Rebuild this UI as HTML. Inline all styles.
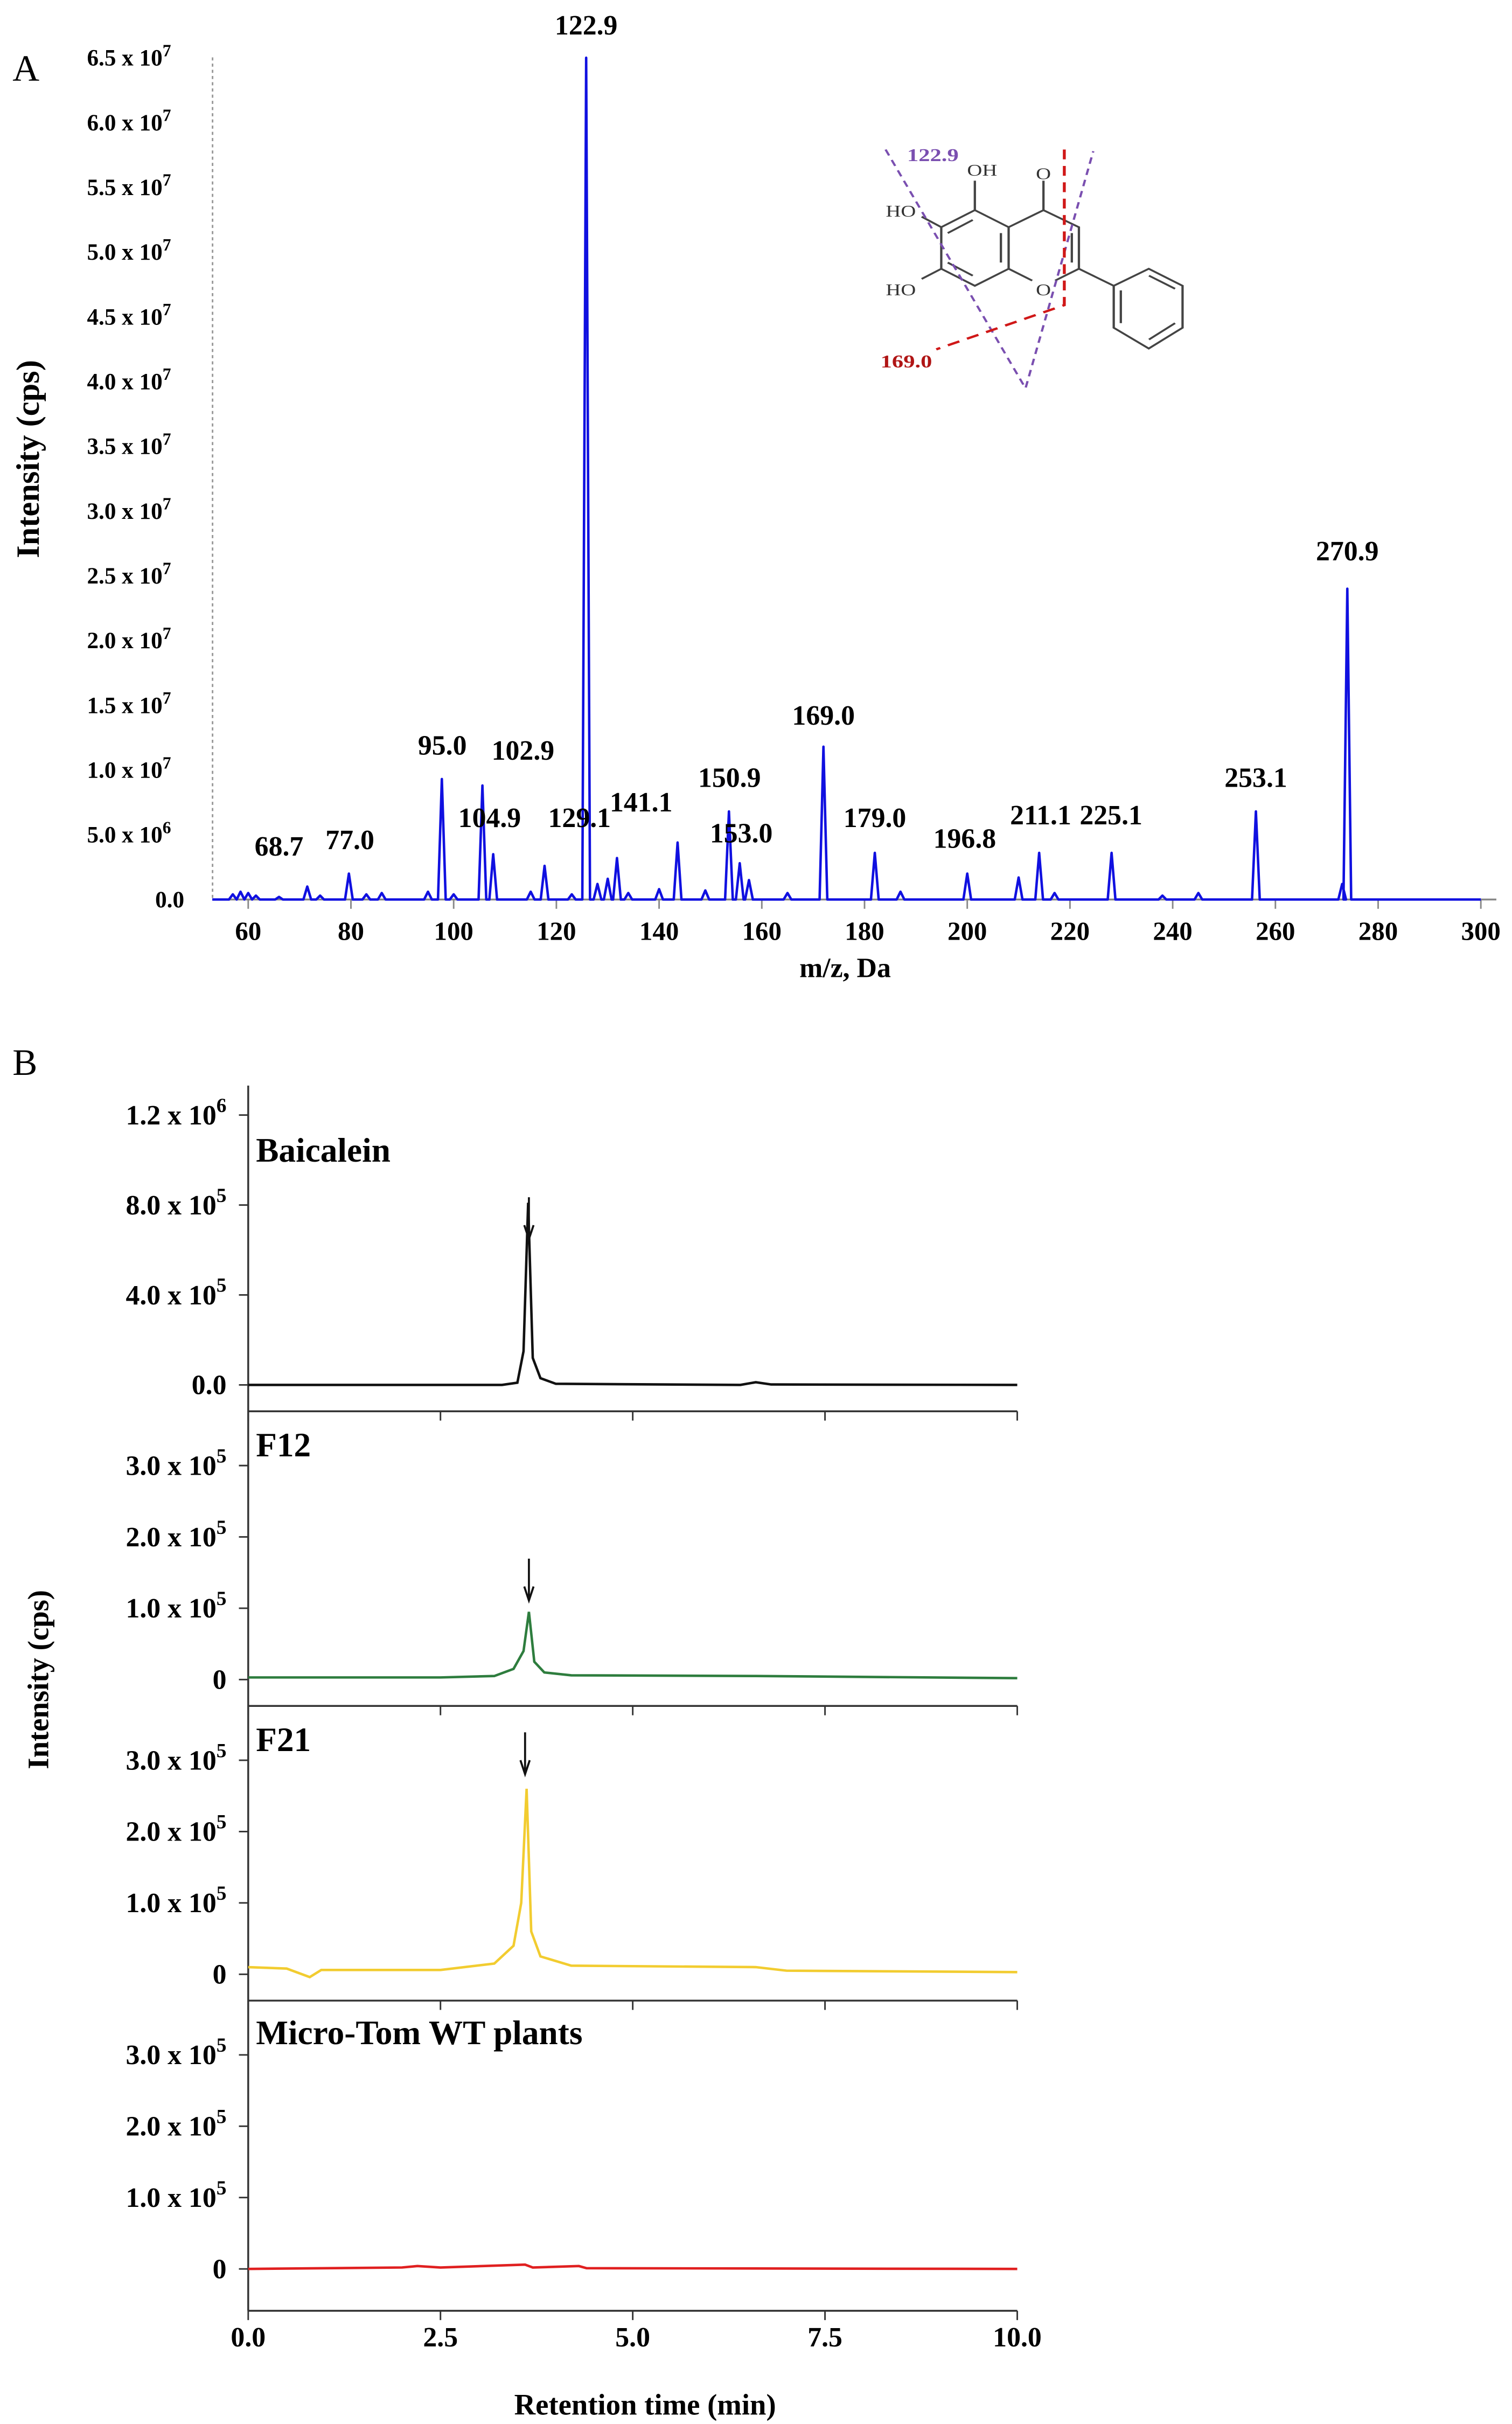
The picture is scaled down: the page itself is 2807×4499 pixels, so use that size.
<!DOCTYPE html>
<html><head><meta charset="utf-8"><style>
html,body{margin:0;padding:0;background:#fff}
svg{display:block}
text{font-family:"Liberation Serif",serif}
</style></head><body>
<svg id="fig" width="2807" height="4499" viewBox="0 0 975 1563" xmlns="http://www.w3.org/2000/svg">
<text x="8" y="52" font-size="24">A</text>
<text x="8" y="693" font-size="24">B</text>
<g id="ms"></g>
<g id="mol" stroke="#444" stroke-width="1.1" fill="none" transform="translate(538.4,69.5) scale(1.345,1.056) translate(-538.4,-69.5)">
<polyline points="605.5,132 589.4,142.4 589.4,167.8 605.5,178.2 621.7,167.8 621.7,142.4 605.5,132"/>
<line x1="592.5" y1="146" x2="604.5" y2="138"/><line x1="592.5" y1="164" x2="604.5" y2="172"/><line x1="618" y1="146" x2="618" y2="164"/>
<polyline points="621.7,142.4 638.4,132 655.4,142.4 655.4,167.8 644,175"/><line x1="621.7" y1="167.8" x2="633" y2="175"/>
<line x1="652" y1="146" x2="652" y2="164"/>
<line x1="638.4" y1="132" x2="638.4" y2="114"/><line x1="605.5" y1="132" x2="605.5" y2="114"/>
<line x1="589.4" y1="142.4" x2="580" y2="136"/><line x1="589.4" y1="167.8" x2="580" y2="174"/>
<line x1="655.4" y1="167.8" x2="672.1" y2="178.2"/>
<polyline points="672.1,178.2 688.9,167.8 705.1,178.2 705.1,203.8 688.9,216.5 672.1,203.8 672.1,178.2"/>
<line x1="689" y1="172" x2="701.5" y2="180"/><line x1="701.5" y1="201" x2="689" y2="211"/><line x1="675.5" y1="181" x2="675.5" y2="201"/>
<g stroke="none" fill="#333" font-family="Liberation Sans, sans-serif" font-size="10">
<text x="638.4" y="113" text-anchor="middle">O</text>
<text x="609" y="111" text-anchor="middle">OH</text>
<text x="570" y="136" text-anchor="middle">HO</text>
<text x="570" y="184" text-anchor="middle">HO</text>
<text x="638.4" y="184" text-anchor="middle">O</text>
</g>
<polyline points="562.7,95 629.8,240.8 662.3,96" stroke="#7a4fb0" stroke-dasharray="4,3"/>
<polyline points="648.4,95 648.4,190 587,217" stroke="#d01818" stroke-width="1.4" stroke-dasharray="6,4"/>
<text x="573" y="102" font-size="11" font-weight="bold" fill="#7a4fb0" stroke="none">122.9</text>
<text x="585" y="228" font-size="11" font-weight="bold" fill="#b01515" stroke="none" text-anchor="end">169.0</text>
</g>
<g id="lc"></g>
</svg>
<script>
const NS="http://www.w3.org/2000/svg";
// ---------- Panel A data ----------
const msMz=[57,58.5,60,61.5,66,71.5,74,79.6,83,86,95,97.7,100,105.6,107.7,115,117.7,123,125.8,128,130,131.8,134,140,143.6,149,153.6,155.7,157.5,165,172,182,187,200,210,214,217,228.1,238,245,256.2,273,274];
const msInt=[4e5,6e5,5e5,3e5,2e5,1.0e6,3e5,2.0e6,4e5,5e5,6e5,9.3e6,4e5,8.8e6,3.5e6,6e5,2.6e6,4e5,6.5e7,1.2e6,1.6e6,3.2e6,5e5,8e5,4.4e6,7e5,6.8e6,2.8e6,1.5e6,5e5,1.18e7,3.6e6,6e5,2.0e6,1.7e6,3.6e6,5e5,3.6e6,3e5,5e5,6.8e6,1.2e6,2.4e7];
const msLabels=["68.7","77.0","95.0","102.9","104.9","129.1","141.1","150.9","153.0","169.0","179.0","196.8","211.1","225.1","253.1","270.9","122.9"];
const msLabelMz=[66,79.8,97.8,113.5,107,124.5,136.5,153.7,156,172,182,199.5,214.3,228,256.2,274,125.8];
const msLabelInt=[3.4e6,3.9e6,1.12e7,1.08e7,5.6e6,5.6e6,6.8e6,8.7e6,4.4e6,1.35e7,5.6e6,4.0e6,5.8e6,5.8e6,8.7e6,2.62e7,6.68e7];
const msYTicks=[0,5e6,1e7,1.5e7,2e7,2.5e7,3e7,3.5e7,4e7,4.5e7,5e7,5.5e7,6e7,6.5e7];
const msYTickMant=["0.0","5.0","1.0","1.5","2.0","2.5","3.0","3.5","4.0","4.5","5.0","5.5","6.0","6.5"];
const msYTickExp=["","6","7","7","7","7","7","7","7","7","7","7","7","7"];
const msXTicks=[60,80,100,120,140,160,180,200,220,240,260,280,300];

const mx=v=>160+(v-60)*795/240;
const my=v=>580-v*83.5/1e7;
function el(parent,tag,attrs,txt){const e=document.createElementNS(NS,tag);for(const k in attrs)e.setAttribute(k,attrs[k]);if(txt!==undefined)e.textContent=txt;parent.appendChild(e);return e;}
const ms=document.getElementById('ms');
let ax=el(ms,'line',{x1:137,y1:37,x2:137,y2:580,stroke:'#999','stroke-width':1,'stroke-dasharray':'2,2'});


let bx=el(ms,'line',{x1:137,y1:580,x2:965,y2:580,stroke:'#888','stroke-width':1.2});


msXTicks.forEach(t=>{
  el(ms,'line',{x1:mx(t),y1:580,x2:mx(t),y2:586,stroke:'#888','stroke-width':1});
  const tx=el(ms,'text',{x:mx(t),y:606,'font-size':17,'font-weight':'bold','text-anchor':'middle'},String(t));
  
  
});
msYTicks.forEach((t,i)=>{
  const tx=el(ms,'text',{x:i===0?100:56,y:my(t)+5,'font-size':15,'font-weight':'bold'});
  
  
  if(i===0){tx.textContent=msYTickMant[i];}
  else{tx.textContent=msYTickMant[i]+" x 10";el(tx,'tspan',{dy:-6,'font-size':11},msYTickExp[i]);}
});
let d="M"+mx(53)+","+my(0);
msMz.forEach((m,i)=>{const w=0.75;d+=" L"+mx(m-w)+","+my(0)+" L"+mx(m)+","+my(msInt[i])+" L"+mx(m+w)+","+my(0);});
d+=" L"+mx(300)+","+my(0);
let sp=el(ms,'path',{d:d,fill:'none',stroke:'#1010e0','stroke-width':1.6,'stroke-linejoin':'round'});


msLabels.forEach((l,i)=>{
  const tx=el(ms,'text',{x:mx(msLabelMz[i]),y:my(msLabelInt[i]),'font-size':18,'font-weight':'bold','text-anchor':'middle'},l);
  
  
});
let yt=el(ms,'text',{x:0,y:0,'font-size':21,'font-weight':'bold','text-anchor':'middle',transform:'translate(25,296) rotate(-90)'},'Intensity (cps)');


let xt=el(ms,'text',{x:545,y:630,'font-size':18,'font-weight':'bold','text-anchor':'middle'},'m/z, Da');



// ---------- Panel B data ----------
const lcNames=["Baicalein","F12","F21","Micro-Tom WT plants"];
const lcColors=["#111","#2e7d3e","#f2cc30","#e02020"];
const lcZero=[893,1083,1273,1463];
const lcScale=[58/4e5,46/1e5,46/1e5,46/1e5];
const lcTicks=[[0,4e5,8e5,1.2e6],[0,1e5,2e5,3e5],[0,1e5,2e5,3e5],[0,1e5,2e5,3e5]];
const lcTickLabels=[["0.0","4.0 x 10|5","8.0 x 10|5","1.2 x 10|6"],["0","1.0 x 10|5","2.0 x 10|5","3.0 x 10|5"],["0","1.0 x 10|5","2.0 x 10|5","3.0 x 10|5"],["0","1.0 x 10|5","2.0 x 10|5","3.0 x 10|5"]];
const lcT0=[0,3.3,3.5,3.58,3.64,3.7,3.8,4.0,6.4,6.6,6.8,10];
const lcY0=[0,0,1e4,1.5e5,8.1e5,1.2e5,3e4,5e3,0,1.2e4,2e3,0];
const lcT1=[0,2.5,3.2,3.45,3.58,3.65,3.72,3.85,4.2,6.6,10];
const lcY1=[3e3,3e3,5e3,1.5e4,4e4,9.5e4,2.5e4,1e4,6e3,5e3,2e3];
const lcT2=[0,0.5,0.8,0.95,2.5,3.2,3.45,3.55,3.62,3.68,3.8,4.2,6.6,7,10];
const lcY2=[1e4,8e3,-4e3,6e3,6e3,1.5e4,4e4,1e5,2.6e5,6e4,2.5e4,1.2e4,1e4,5e3,3e3];
const lcT3=[0,2,2.2,2.5,3.6,3.7,4.3,4.4,10];
const lcY3=[0,2e3,4e3,2e3,6e3,2e3,4e3,1e3,0];
const lcTs=[lcT0,lcT1,lcT2,lcT3], lcYs=[lcY0,lcY1,lcY2,lcY3];
const lcArrowT=[3.65,3.65,3.6];
const lcXTicks=[0,2.5,5,7.5,10];
const lcXLabels=["0.0","2.5","5.0","7.5","10.0"];
const tx_=t=>160+t*49.6;
const lc=document.getElementById('lc');
let la=el(lc,'line',{x1:160,y1:700,x2:160,y2:1490,stroke:'#333','stroke-width':1.2});


[910,1100,1290,1490].forEach(y=>{
  const l=el(lc,'line',{x1:160,y1:y,x2:656,y2:y,stroke:'#333','stroke-width':1.2});
  
  
  lcXTicks.forEach(t=>el(lc,'line',{x1:tx_(t),y1:y,x2:tx_(t),y2:y+6,stroke:'#333','stroke-width':1}));
});
lcXLabels.forEach((l,i)=>{
  const t=el(lc,'text',{x:tx_(lcXTicks[i]),y:1513,'font-size':18,'font-weight':'bold','text-anchor':'middle'},l);
  
  
});
lcNames.forEach((n,k)=>{
  const y=v=>lcZero[k]-v*lcScale[k];
  lcTicks[k].forEach((t,i)=>{
    el(lc,'line',{x1:154,y1:y(t),x2:160,y2:y(t),stroke:'#333','stroke-width':1});
    const parts=lcTickLabels[k][i].split('|');
    const tt=el(lc,'text',{x:146,y:y(t)+6,'font-size':18,'font-weight':'bold','text-anchor':'end'});
    
    
    if(parts.length===1)tt.textContent=parts[0];
    else{tt.textContent=parts[0];el(tt,'tspan',{dy:-8,'font-size':13},parts[1]);}
  });
  const pts=lcTs[k].map((t,i)=>tx_(t)+","+y(lcYs[k][i])).join(" ");
  const p=el(lc,'polyline',{points:pts,fill:'none',stroke:lcColors[k],'stroke-width':1.6});
  
  
  const lab=el(lc,'text',{x:165,y:[749,939,1129,1318][k],'font-size':22,'font-weight':'bold'},n);
  
  
  if(k<3){
    const ax2=tx_(lcArrowT[k]), top=[772,1005,1117][k];
    const ar=el(lc,'path',{d:`M${ax2},${top} L${ax2},${top+26} M${ax2-3},${top+18} L${ax2},${top+27} L${ax2+3},${top+18}`,stroke:'#111','stroke-width':1.3,fill:'none'});
    
    
  }
});
let lyt=el(lc,'text',{x:0,y:0,'font-size':19,'font-weight':'bold','text-anchor':'middle',transform:'translate(31,1083) rotate(-90)'},'Intensity (cps)');


let lxt=el(lc,'text',{x:416,y:1557,'font-size':19,'font-weight':'bold','text-anchor':'middle'},'Retention time (min)');


</script>
</body></html>
